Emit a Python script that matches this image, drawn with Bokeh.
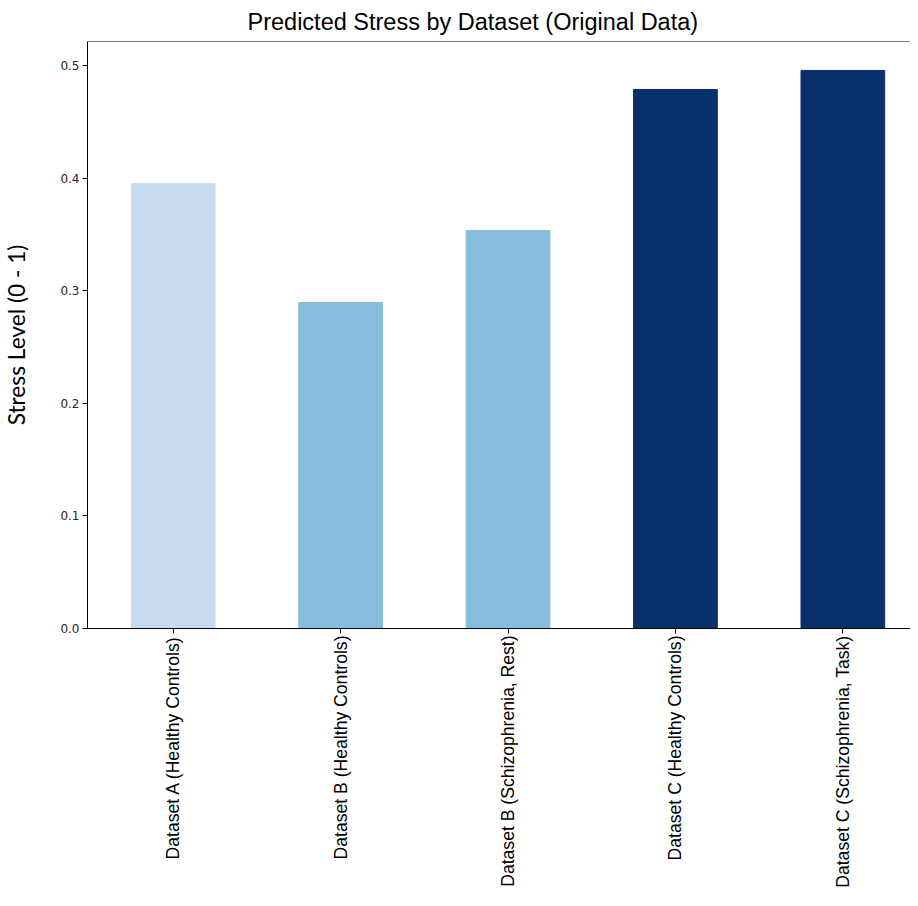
from bokeh.plotting import figure
from bokeh.models import Range1d, FixedTicker, Span, ColumnDataSource, CustomJSTickFormatter
from bokeh.embed import file_html
from bokeh.resources import INLINE
import math

categories = [
    "Dataset A (Healthy Controls)",
    "Dataset B (Healthy Controls)",
    "Dataset B (Schizophrenia, Rest)",
    "Dataset C (Healthy Controls)",
    "Dataset C (Schizophrenia, Task)",
]
stress = [0.395, 0.2895, 0.3535, 0.4787, 0.4956]
bar_colors = ["#c6dbef", "#86bcdc", "#86bcdc", "#08306b", "#08306b"]
y_ticks = [0.0, 0.1, 0.2, 0.3, 0.4, 0.5]

xs = list(range(len(categories)))
src = ColumnDataSource(dict(x=xs, top=stress, color=bar_colors))

p = figure(width=910, height=890, output_backend="svg", toolbar_location=None,
           x_range=Range1d(-0.512, 4.404), y_range=Range1d(0, 0.5213),
           min_border_left=82, min_border_right=0, min_border_top=36, min_border_bottom=262)

p.vbar(x="x", top="top", width=0.5, color="color", source=src)

p.title.text = "Predicted Stress by Dataset (Original Data)"
p.title.text_font = "Liberation Sans"
p.title.text_font_size = "23.5px"
p.title.text_font_style = "normal"
p.title.align = "left"
p.title.offset = 160
p.title.standoff = 13
p.title.text_color = "#000000"

p.xgrid.grid_line_color = None
p.ygrid.grid_line_color = None
p.outline_line_color = None
p.add_layout(Span(location=0.5213, dimension="width", line_color="#000000", line_width=1))

p.xaxis.ticker = FixedTicker(ticks=xs)
p.xaxis.major_label_overrides = {i: c for i, c in enumerate(categories)}
p.xaxis.major_label_orientation = math.pi / 2
p.xaxis.major_label_text_font = "Liberation Sans"
p.xaxis.major_label_text_font_size = "17.6px"
p.xaxis.major_label_text_color = "#000000"
p.xaxis.major_label_standoff = 2
p.xaxis.minor_tick_line_color = None
p.xaxis.major_tick_out = 5
p.xaxis.major_tick_in = 0
p.xaxis.axis_line_color = "#000000"

p.yaxis.ticker = FixedTicker(ticks=y_ticks)
p.yaxis.formatter = CustomJSTickFormatter(code="return tick.toFixed(1);")
p.yaxis.major_label_text_font = "DejaVu Sans"
p.yaxis.major_label_text_font_size = "12px"
p.yaxis.major_label_text_color = "#262626"
p.yaxis.major_label_standoff = 3
p.yaxis.minor_tick_line_color = None
p.yaxis.major_tick_out = 5
p.yaxis.major_tick_in = 0
p.yaxis.axis_line_color = "#000000"
p.yaxis.axis_label = "Stress Level (0 - 1)"
p.yaxis.axis_label_text_font = "Lato"
p.yaxis.axis_label_text_font_size = "22.7px"
p.yaxis.axis_label_text_font_style = "normal"
p.yaxis.axis_label_text_color = "#000000"
p.yaxis.axis_label_standoff = 27

open("out.html", "w").write(file_html(p, INLINE))
